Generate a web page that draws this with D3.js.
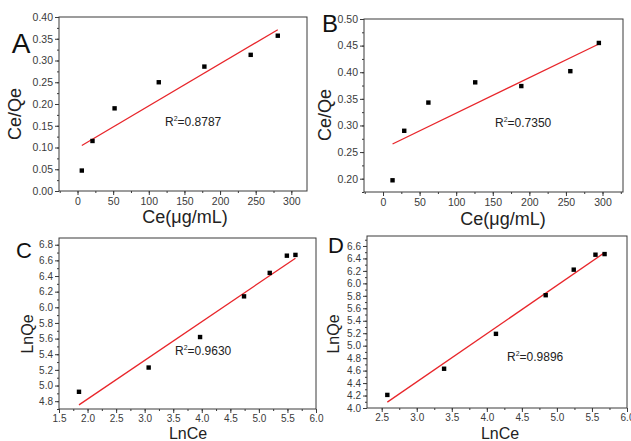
<!DOCTYPE html>
<html>
<head>
<meta charset="utf-8">
<script src="https://cdn.jsdelivr.net/npm/d3@7"></script>
<style>
  body { margin: 0; background: #fff; }
  svg { font-family: "Liberation Sans", Arial, sans-serif; }
</style>
</head>
<body>
<div id="chart"></div>
<script>
// panel A - Langmuir, sample 1
const aCe = [6, 21, 52, 114, 178, 243, 281];
const aCeQe = [0.047, 0.115, 0.19, 0.25, 0.286, 0.313, 0.357];
// panel B - Langmuir, sample 2
const bCe = [13, 29, 62, 126, 189, 256, 295];
const bCeQe = [0.197, 0.29, 0.343, 0.381, 0.374, 0.402, 0.455];
// panel C - Freundlich, sample 1
const cLnCe = [1.85, 3.07, 3.97, 4.74, 5.19, 5.49, 5.64];
const cLnQe = [4.92, 5.23, 5.62, 6.14, 6.44, 6.66, 6.67];
// panel D - Freundlich, sample 2
const dLnCe = [2.58, 3.39, 4.13, 4.84, 5.24, 5.55, 5.68];
const dLnQe = [4.21, 4.63, 5.19, 5.81, 6.22, 6.46, 6.47];

const letters = ["A", "B", "C", "D"];
const rSquared = ["0.8787", "0.7350", "0.9630", "0.9896"];

const width = 631, height = 441;
const svg = d3.select("#chart").append("svg")
    .attr("width", width)
    .attr("height", height);

const ink = "#3a3a3a";

// least squares line through the points
function fitLine(xs, ys) {
    const mx = d3.mean(xs), my = d3.mean(ys);
    const sxy = d3.sum(xs, (x, i) => (x - mx) * (ys[i] - my));
    const sxx = d3.sum(xs, x => (x - mx) * (x - mx));
    const k = sxy / sxx;
    return x => my + k * (x - mx);
}

function drawPanel(p) {
    const x = d3.scaleLinear().domain(p.xDomain).range([p.left, p.right]);
    const y = d3.scaleLinear().domain(p.yDomain).range([p.bottom, p.top]);
    const g = svg.append("g");

    // minor ticks
    g.append("g")
        .attr("transform", `translate(0,${p.bottom})`)
        .call(d3.axisBottom(x).tickValues(p.xMinor).tickSize(2).tickFormat(""))
        .call(a => a.select(".domain").remove())
        .call(a => a.selectAll("line").attr("stroke", ink));
    g.append("g")
        .attr("transform", `translate(${p.left},0)`)
        .call(d3.axisLeft(y).tickValues(p.yMinor).tickSize(2).tickFormat(""))
        .call(a => a.select(".domain").remove())
        .call(a => a.selectAll("line").attr("stroke", ink));

    // major ticks + labels
    g.append("g")
        .attr("transform", `translate(0,${p.bottom})`)
        .call(d3.axisBottom(x).tickValues(p.xTicks).tickSize(4).tickPadding(p.xPad).tickFormat(p.xFormat))
        .call(a => a.select(".domain").remove())
        .call(a => a.selectAll("line").attr("stroke", ink))
        .call(a => a.selectAll("text").attr("fill", ink).attr("font-size", p.tickFont)
            .attr("font-family", "Liberation Sans, Arial, sans-serif"));
    g.append("g")
        .attr("transform", `translate(${p.left},0)`)
        .call(d3.axisLeft(y).tickValues(p.yTicks).tickSize(4).tickPadding(2).tickFormat(p.yFormat))
        .call(a => a.select(".domain").remove())
        .call(a => a.selectAll("line").attr("stroke", ink))
        .call(a => a.selectAll("text").attr("fill", ink).attr("font-size", p.tickFont)
            .attr("font-family", "Liberation Sans, Arial, sans-serif"));

    // frame
    g.append("rect")
        .attr("x", p.left).attr("y", p.top)
        .attr("width", p.right - p.left).attr("height", p.bottom - p.top)
        .attr("fill", "none").attr("stroke", ink).attr("stroke-width", 1);

    // fitted line
    const f = fitLine(p.xs, p.ys);
    const x0 = d3.min(p.xs), x1 = d3.max(p.xs);
    g.append("line")
        .attr("x1", x(x0)).attr("y1", y(f(x0)))
        .attr("x2", x(x1)).attr("y2", y(f(x1)))
        .attr("stroke", "#e8262b").attr("stroke-width", 1.3);

    // points
    g.append("g").selectAll("rect")
        .data(p.xs.map((v, i) => [v, p.ys[i]]))
        .join("rect")
        .attr("x", d => x(d[0]) - 2.2)
        .attr("y", d => y(d[1]) - 2.2)
        .attr("width", 4.4).attr("height", 4.4)
        .attr("fill", "#000");

    // R^2 note
    const r = g.append("text")
        .attr("x", p.rPos[0]).attr("y", p.rPos[1])
        .attr("font-size", 12).attr("fill", "#222");
    r.append("tspan").text("R");
    r.append("tspan").attr("font-size", 7).attr("dy", -5).text("2");
    r.append("tspan").attr("dy", 5).text("=" + p.r2);

    // panel letter
    g.append("text")
        .attr("x", p.letterPos[0]).attr("y", p.letterPos[1])
        .attr("text-anchor", "middle")
        .attr("font-size", p.letterSize).attr("fill", "#111")
        .text(p.letter);

    // axis titles
    g.append("text")
        .attr("x", p.xTitlePos[0]).attr("y", p.xTitlePos[1])
        .attr("text-anchor", "middle")
        .attr("font-size", p.titleSize).attr("fill", "#222")
        .text(p.xTitle);
    g.append("text")
        .attr("transform", `translate(${p.yTitlePos[0]},${p.yTitlePos[1]}) rotate(-90)`)
        .attr("text-anchor", "middle")
        .attr("font-size", p.titleSize).attr("fill", "#222")
        .text(p.yTitle);
}

const f2 = d3.format(".2f"), f1 = d3.format(".1f"), f0 = d3.format("d");

drawPanel({
    xs: aCe, ys: aCeQe, letter: letters[0], r2: rSquared[0],
    left: 59, right: 307, top: 17, bottom: 191,
    xDomain: [-26, 322], yDomain: [0, 0.4],
    xTicks: d3.range(0, 301, 50), xMinor: d3.range(-25, 321, 25),
    yTicks: d3.range(0, 0.401, 0.05), yMinor: d3.range(0, 0.401, 0.025),
    xFormat: f0, yFormat: f2, tickFont: 10.5, xPad: 3,
    rPos: [165, 126], letterPos: [21, 53], letterSize: 28,
    titleSize: 18,
    xTitle: "Ce(\u03bcg/mL)", xTitlePos: [185, 223],
    yTitle: "Ce/Qe", yTitlePos: [21, 114]
});

drawPanel({
    xs: bCe, ys: bCeQe, letter: letters[1], r2: rSquared[1],
    left: 364, right: 623, top: 19, bottom: 192,
    xDomain: [-26, 328], yDomain: [0.175, 0.5],
    xTicks: d3.range(0, 301, 50), xMinor: d3.range(-25, 326, 25),
    yTicks: d3.range(0.2, 0.501, 0.05), yMinor: d3.range(0.175, 0.501, 0.025),
    xFormat: f0, yFormat: f2, tickFont: 10.5, xPad: 3,
    rPos: [495, 127], letterPos: [330, 32], letterSize: 24,
    titleSize: 18,
    xTitle: "Ce(\u03bcg/mL)", xTitlePos: [503, 225],
    yTitle: "Ce/Qe", yTitlePos: [331, 115]
});

drawPanel({
    xs: cLnCe, ys: cLnQe, letter: letters[2], r2: rSquared[2],
    left: 59, right: 316, top: 238, bottom: 409,
    xDomain: [1.5, 6.0], yDomain: [4.7, 6.886],
    xTicks: d3.range(1.5, 6.01, 0.5), xMinor: d3.range(1.5, 6.01, 0.25),
    yTicks: d3.range(4.8, 6.81, 0.2), yMinor: d3.range(4.7, 6.88, 0.1),
    xFormat: f1, yFormat: f1, tickFont: 10, xPad: 1.5,
    rPos: [175, 355], letterPos: [24, 258], letterSize: 22,
    titleSize: 16,
    xTitle: "LnCe", xTitlePos: [188, 438.5],
    yTitle: "LnQe", yTitlePos: [33, 334]
});

drawPanel({
    xs: dLnCe, ys: dLnQe, letter: letters[3], r2: rSquared[3],
    left: 367, right: 627, top: 236, bottom: 408,
    xDomain: [2.29, 6.0], yDomain: [4.0, 6.76],
    xTicks: d3.range(2.5, 6.01, 0.5), xMinor: d3.range(2.5, 6.01, 0.25),
    yTicks: d3.range(4.0, 6.61, 0.2), yMinor: d3.range(4.0, 6.71, 0.1),
    xFormat: f1, yFormat: f1, tickFont: 10, xPad: 1.5,
    rPos: [507, 361], letterPos: [336, 253], letterSize: 22,
    titleSize: 16,
    xTitle: "LnCe", xTitlePos: [500, 438.5],
    yTitle: "LnQe", yTitlePos: [339, 334]
});
</script>
</body>
</html>
